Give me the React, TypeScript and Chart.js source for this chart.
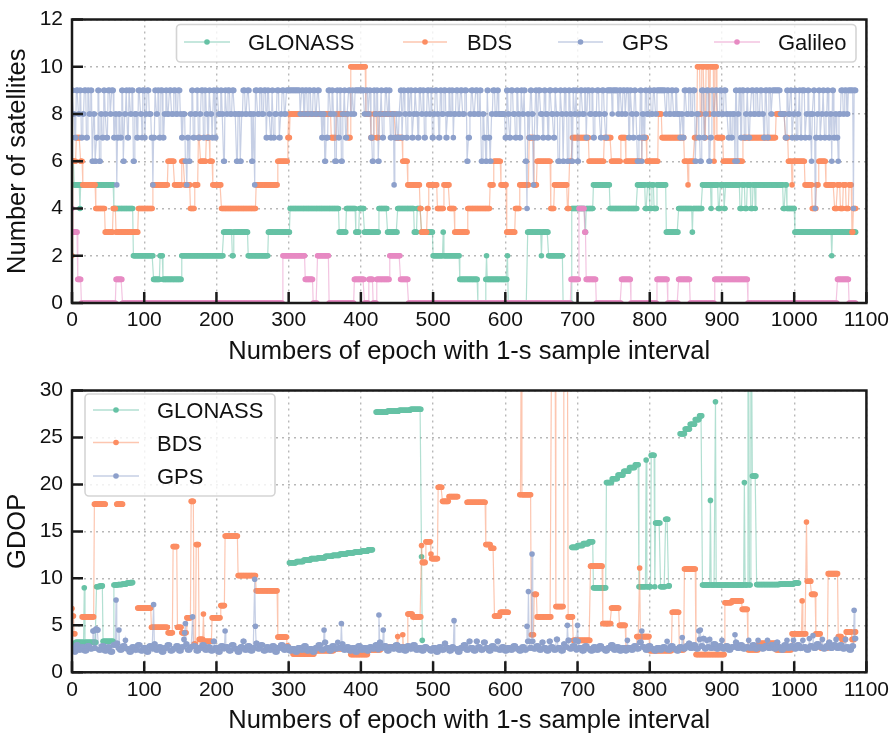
import React, { useEffect, useRef } from "react";
import { Chart, registerables } from "chart.js";

Chart.register(...registerables);

const FONT = 'Arial, "Liberation Sans", Helvetica, sans-serif';
const LAST_EPOCH = 1085;

const epochTicks = [0, 100, 200, 300, 400, 500, 600, 700, 800, 900, 1000, 1100];
const satTicks = [0, 2, 4, 6, 8, 10, 12];
const gdopTicks = [0, 5, 10, 15, 20, 25, 30];

const satSystems = ["GLONASS", "BDS", "GPS", "Galileo"];
const gdopSystems = ["GLONASS", "BDS", "GPS"];
const systemColors = ["#66c2a5", "#fc8d62", "#8da0cb", "#e78ac3"];

const xTitle = "Numbers of epoch with 1-s sample interval";
const satTitle = "Number of satellites";
const gdopTitle = "GDOP";

// Run-length data: [first epoch, value] (value holds until next run)
const glonassSats = [[0,6],[3,5],[11,4],[12,5],[58,4],[85,2],[113,1],[122,2],[126,1],[152,2],[210,3],[222,2],[224,3],[244,2],[272,3],[302,4],[370,3],[380,4],[393,3],[398,4],[405,3],[425,4],[437,3],[451,4],[474,3],[478,4],[484,3],[500,2],[514,3],[515,2],[537,1],[562,0],[573,1],[574,2],[575,1],[603,2],[604,0],[631,3],[650,2],[651,3],[660,2],[680,0],[692,4],[711,3],[712,4],[722,5],[745,4],[783,5],[794,4],[797,5],[800,4],[803,5],[806,4],[810,5],[823,3],[840,4],[859,3],[860,4],[873,5],[885,4],[886,5],[895,4],[898,5],[903,4],[905,5],[925,4],[928,5],[932,4],[935,5],[940,4],[943,5],[946,4],[947,5],[985,4],[988,5],[990,4],[1001,3],[1052,2],[1053,3]];

const bdsSats = [[0,2],[1,6],[6,7],[12,6],[15,5],[33,4],[46,3],[57,4],[61,3],[92,4],[112,5],[133,6],[142,5],[152,6],[156,5],[164,4],[170,5],[175,7],[178,6],[186,7],[191,6],[195,5],[207,4],[255,5],[285,6],[299,7],[300,8],[301,7],[302,8],[359,7],[366,8],[382,7],[386,10],[407,8],[414,7],[418,8],[422,7],[425,8],[448,7],[458,6],[465,5],[482,4],[484,3],[492,4],[494,5],[506,4],[515,5],[523,4],[530,3],[548,4],[579,5],[584,6],[594,5],[602,3],[614,4],[620,5],[633,7],[640,5],[644,6],[663,4],[668,5],[686,4],[689,6],[693,7],[716,6],[737,7],[747,6],[760,7],[767,6],[789,7],[796,6],[812,8],[817,7],[848,6],[853,5],[854,6],[862,7],[866,10],[870,8],[872,10],[876,7],[878,10],[882,8],[884,10],[889,6],[890,10],[893,7],[902,6],[929,7],[975,8],[988,7],[992,6],[997,5],[998,6],[1015,5],[1025,4],[1031,5],[1034,6],[1044,5],[1056,4],[1060,5],[1064,4],[1068,5],[1072,4],[1076,5],[1080,3],[1082,4]];

const gpsSats = [[0,9],[2,8],[4,7],[6,9],[9,8],[11,9],[13,7],[15,8],[17,9],[20,7],[22,9],[24,8],[26,9],[28,6],[30,8],[32,6],[34,7],[36,9],[38,6],[40,8],[42,7],[44,9],[46,8],[48,7],[50,9],[53,8],[55,9],[58,7],[60,8],[62,5],[63,7],[65,8],[67,7],[69,9],[71,6],[73,8],[75,9],[77,7],[79,9],[81,8],[83,9],[85,6],[87,8],[90,7],[92,9],[95,8],[97,7],[98,9],[101,7],[102,8],[104,9],[107,8],[110,7],[112,5],[113,7],[115,9],[117,8],[119,9],[121,7],[123,9],[126,7],[128,8],[130,9],[132,8],[135,9],[138,8],[141,9],[144,8],[147,9],[150,8],[152,7],[154,8],[157,6],[159,5],[160,7],[162,6],[164,8],[166,9],[168,7],[170,8],[173,9],[175,7],[177,8],[179,9],[182,7],[184,9],[186,8],[188,7],[190,9],[192,8],[194,7],[196,9],[198,7],[200,9],[203,8],[206,9],[208,8],[210,6],[212,9],[214,8],[216,9],[219,8],[222,9],[225,8],[228,6],[230,8],[233,6],[235,8],[237,9],[240,8],[243,9],[246,8],[249,6],[251,8],[253,5],[254,9],[257,8],[260,9],[263,8],[266,9],[269,7],[271,9],[273,8],[275,7],[277,9],[279,7],[281,8],[284,9],[287,7],[289,8],[291,9],[294,8],[297,9],[316,8],[318,9],[321,8],[323,9],[326,8],[328,9],[331,8],[334,9],[337,8],[340,9],[343,8],[346,7],[348,8],[350,6],[352,7],[355,9],[358,8],[360,9],[362,8],[364,6],[367,9],[369,7],[371,9],[373,6],[375,8],[377,9],[379,7],[381,8],[383,9],[386,8],[388,9],[390,8],[392,9],[405,8],[407,9],[410,8],[412,9],[414,7],[416,6],[418,9],[420,8],[422,9],[424,6],[426,8],[428,9],[430,7],[432,8],[434,9],[437,8],[439,9],[441,7],[443,8],[446,5],[447,7],[449,8],[451,7],[453,8],[455,9],[457,7],[459,9],[461,8],[463,7],[465,9],[467,8],[469,9],[471,7],[473,8],[475,9],[477,8],[479,7],[481,9],[484,8],[486,9],[488,7],[490,8],[492,9],[495,8],[497,9],[499,7],[501,8],[503,9],[506,8],[508,7],[510,9],[512,8],[515,9],[518,7],[520,8],[522,9],[524,8],[526,9],[528,7],[529,8],[532,9],[535,8],[538,9],[541,8],[544,9],[547,6],[549,7],[551,8],[553,9],[556,8],[559,9],[562,8],[565,9],[567,6],[569,8],[571,7],[573,6],[575,9],[577,7],[579,6],[581,8],[583,9],[586,8],[589,9],[591,8],[600,7],[602,9],[604,8],[606,7],[608,9],[611,8],[614,7],[616,9],[618,8],[620,7],[622,9],[624,8],[626,9],[628,6],[630,4],[631,8],[633,7],[635,9],[637,8],[639,5],[640,7],[642,9],[644,7],[646,9],[649,8],[652,7],[654,9],[656,8],[659,7],[661,9],[664,8],[667,7],[669,9],[671,8],[673,6],[676,9],[678,8],[680,6],[682,9],[684,8],[686,6],[688,9],[690,8],[692,6],[694,9],[696,8],[698,9],[700,6],[702,8],[704,9],[707,8],[710,9],[712,7],[714,9],[717,8],[720,9],[722,7],[724,8],[727,9],[730,8],[732,7],[734,9],[737,8],[739,7],[741,9],[748,8],[749,9],[756,8],[758,9],[761,8],[763,9],[766,8],[768,9],[771,7],[773,9],[775,8],[777,7],[779,9],[781,8],[783,6],[785,7],[787,9],[789,6],[790,8],[792,7],[794,9],[796,8],[799,9],[802,8],[805,9],[808,8],[810,9],[822,8],[824,9],[827,8],[830,9],[833,8],[836,9],[838,8],[842,7],[844,8],[846,7],[848,9],[851,8],[854,9],[857,8],[860,9],[863,6],[865,8],[868,7],[870,6],[872,9],[875,7],[877,8],[879,9],[882,6],[884,7],[886,9],[888,8],[891,9],[894,8],[897,9],[900,8],[903,9],[906,8],[909,7],[911,8],[913,7],[915,8],[918,6],[919,9],[921,6],[922,8],[924,9],[926,7],[928,9],[931,7],[933,8],[935,9],[937,7],[939,8],[941,9],[944,8],[947,9],[950,8],[953,9],[956,8],[958,7],[960,9],[963,7],[965,9],[968,8],[970,9],[981,8],[988,7],[990,9],[992,8],[995,9],[997,7],[999,8],[1001,9],[1003,7],[1005,8],[1007,9],[1009,7],[1011,9],[1015,7],[1017,8],[1019,9],[1021,7],[1022,8],[1024,6],[1025,8],[1027,9],[1029,4],[1030,7],[1032,8],[1034,9],[1036,7],[1038,8],[1040,9],[1042,7],[1044,8],[1046,9],[1048,7],[1050,8],[1052,6],[1053,9],[1055,7],[1057,8],[1059,7],[1061,6],[1062,8],[1065,9],[1068,8],[1070,9],[1073,8],[1075,9],[1082,4],[1083,9]];

const galileoSats = [[0,4],[1,3],[8,1],[13,0],[61,1],[70,0],[292,2],[323,1],[334,0],[340,2],[356,0],[391,1],[405,0],[411,1],[417,0],[422,1],[440,2],[455,1],[466,0],[691,1],[702,4],[710,3],[712,1],[726,0],[761,1],[774,0],[810,1],[825,0],[840,1],[856,0],[890,1],[936,0],[1060,1],[1076,0]];

const glonassGdop = [[0,2.9],[5,3.2],[17,9.0],[18,3.2],[34,9.1],[37,9.15],[40,9.2],[43,3.3],[58,9.3],[64,9.35],[70,9.4],[76,9.5],[81,9.55],[85,null],[301,11.65],[311,11.8],[321,11.95],[331,12.1],[341,12.2],[351,12.35],[361,12.45],[371,12.6],[381,12.7],[391,12.8],[401,12.9],[410,13.05],[417,null],[421,27.7],[437,27.8],[453,27.9],[469,28.0],[484,12.3],[485,3.4],[486,null],[692,13.3],[700,13.5],[708,13.7],[716,13.9],[722,9.0],[740,20.2],[748,20.6],[756,21.0],[764,21.4],[772,21.8],[780,22.1],[785,9.1],[795,22.6],[796,9.1],[802,23.1],[807,9.1],[808,15.9],[815,9.1],[822,16.3],[826,9.2],[828,null],[842,25.4],[849,25.9],[856,26.4],[863,26.9],[869,27.3],[873,9.3],[884,18.3],[885,9.3],[891,28.8],[892,9.3],[931,20.2],[932,9.3],[936,35],[938,9.3],[940,35],[942,20.9],[948,9.35],[980,9.4],[1000,9.5],[1007,null]];

const bdsGdop = [[0,6.8],[1,6.0],[3,4.1],[5,null],[14,5.9],[31,17.9],[47,null],[62,17.9],[71,null],[91,6.85],[110,4.8],[133,4.2],[140,13.4],[146,4.8],[152,4.2],[159,5.8],[165,18.2],[169,3.0],[172,13.6],[176,3.5],[182,6.2],[183,3.3],[194,5.8],[206,7.1],[212,14.5],[230,10.3],[255,8.67],[285,3.75],[298,2.8],[300,2.4],[306,1.96],[336,2.3],[363,2.5],[386,1.9],[410,2.4],[428,2.7],[451,3.8],[452,2.7],[458,4.0],[459,2.7],[465,6.2],[472,5.9],[484,13.5],[485,11.7],[490,13.9],[497,12.6],[498,12.1],[507,19.7],[513,18.2],[522,18.7],[535,null],[547,18.1],[573,13.6],[580,13.2],[585,6.0],[593,6.4],[605,null],[620,18.9],[622,35],[623,18.9],[636,4.0],[640,8.3],[644,5.9],[664,35],[670,7.0],[681,35],[687,5.9],[694,3.4],[718,11.3],[735,5.2],[747,6.85],[758,5.0],[767,2.6],[782,3.8],[786,11.1],[787,3.8],[800,2.3],[831,6.4],[841,2.4],[848,11.0],[864,1.9],[904,7.4],[914,7.6],[928,6.7],[936,2.4],[951,3.1],[975,2.4],[997,4.1],[1011,7.6],[1012,4.1],[1017,16.0],[1018,9.7],[1024,8.3],[1030,4.1],[1037,2.6],[1047,10.5],[1061,3.8],[1066,3.5],[1072,4.3],[1080,3.5],[1084,4.3]];

const gpsGdop = [[0,2.6],[3,2.2],[6,2.9],[9,2.4],[13,2.7],[17,2.3],[21,2.8],[25,2.5],[29,4.4],[31,2.6],[33,4.6],[35,4.5],[37,2.4],[41,2.8],[45,2.3],[49,2.7],[53,2.2],[57,2.9],[61,7.7],[62,3.1],[64,2.6],[65,4.5],[66,2.4],[70,2.8],[74,3.4],[75,2.5],[79,2.2],[83,2.7],[87,2.4],[91,2.9],[95,2.3],[99,2.6],[103,2.2],[107,2.8],[111,2.5],[113,7.2],[114,3.0],[116,2.4],[120,2.7],[124,2.2],[128,2.6],[132,2.9],[136,2.3],[140,2.5],[144,2.8],[148,2.3],[152,2.7],[155,3.5],[156,4.2],[157,5.2],[158,3.0],[160,2.4],[164,2.7],[167,5.9],[168,2.8],[172,2.3],[176,2.6],[180,2.9],[184,2.4],[188,2.7],[192,2.3],[196,3.3],[198,2.6],[202,2.2],[206,2.8],[210,2.5],[212,4.4],[213,2.7],[217,2.3],[221,2.9],[225,2.5],[229,2.2],[233,2.7],[237,3.3],[239,2.4],[243,2.8],[247,2.3],[251,2.6],[253,9.9],[254,4.9],[255,3.1],[257,2.5],[261,2.9],[265,2.3],[269,2.7],[273,2.4],[277,2.8],[281,2.2],[285,2.6],[289,2.9],[293,2.4],[297,2.7],[301,2.3],[305,2.5],[309,2.2],[313,2.6],[317,2.4],[321,2.8],[325,2.3],[329,2.5],[333,2.2],[337,2.6],[341,2.9],[345,2.4],[349,4.5],[350,3.2],[352,2.6],[356,2.3],[360,2.8],[364,2.5],[368,3.2],[369,2.6],[373,5.2],[374,3.0],[376,2.4],[380,2.7],[384,2.3],[388,2.6],[392,2.2],[396,2.8],[400,2.4],[404,2.6],[408,2.3],[412,2.7],[416,2.5],[420,2.9],[424,2.4],[425,6.1],[426,3.2],[428,2.6],[431,4.5],[432,2.8],[436,2.3],[440,2.7],[444,2.5],[448,2.9],[452,2.4],[456,2.7],[460,2.3],[464,2.8],[468,2.5],[472,2.9],[476,2.4],[480,2.6],[484,2.3],[488,2.7],[492,2.5],[496,2.3],[500,2.6],[504,2.2],[508,2.7],[512,2.4],[516,3.1],[518,2.6],[522,2.3],[526,2.7],[529,5.5],[530,2.5],[534,2.2],[538,2.6],[542,2.9],[546,2.4],[550,3.3],[552,2.6],[556,2.3],[560,3.3],[562,2.7],[566,2.4],[570,3.2],[573,2.6],[577,2.3],[581,2.8],[585,2.5],[589,3.3],[591,2.4],[595,2.7],[599,2.3],[603,2.6],[607,2.4],[611,2.8],[615,2.5],[619,2.3],[623,2.7],[627,2.4],[630,4.9],[631,3.3],[632,8.6],[633,3.3],[634,2.6],[637,12.6],[638,3.3],[639,2.5],[643,2.8],[647,2.4],[651,3.2],[653,2.6],[657,2.3],[661,3.3],[663,2.7],[667,2.4],[671,3.5],[673,2.6],[677,2.3],[681,3.0],[683,2.7],[686,5.0],[687,3.4],[689,2.5],[693,2.8],[697,3.4],[698,2.4],[700,5.0],[701,3.3],[702,2.6],[706,2.3],[710,2.8],[714,2.5],[718,2.3],[722,2.7],[726,2.4],[730,2.8],[734,2.5],[738,2.3],[742,2.6],[746,2.9],[750,2.4],[754,2.7],[758,2.3],[762,2.6],[766,2.3],[769,3.4],[770,2.6],[774,2.4],[778,2.8],[782,2.5],[786,3.2],[789,4.4],[790,2.7],[794,2.4],[798,2.8],[802,2.5],[806,2.3],[810,2.6],[814,2.4],[818,2.7],[822,2.5],[824,3.3],[825,2.4],[829,2.8],[833,2.5],[837,2.3],[841,2.7],[845,3.7],[846,2.5],[850,2.8],[854,3.1],[856,2.6],[860,2.9],[864,2.5],[868,4.4],[869,3.5],[870,4.5],[871,2.8],[874,3.6],[876,2.5],[879,3.4],[880,2.7],[883,3.5],[884,2.6],[888,3.0],[892,2.5],[896,2.8],[900,3.4],[901,2.5],[905,2.8],[909,2.4],[913,2.7],[918,4.0],[919,3.2],[921,2.6],[925,2.9],[929,2.5],[933,2.7],[937,3.4],[938,2.6],[942,2.9],[946,2.5],[950,3.4],[951,2.7],[955,2.5],[959,2.8],[963,3.4],[964,2.6],[968,2.9],[972,2.5],[976,3.2],[978,2.7],[982,2.4],[986,2.9],[990,3.4],[991,2.6],[995,2.8],[999,3.4],[1000,2.5],[1004,2.9],[1008,2.6],[1012,3.4],[1013,2.7],[1017,2.4],[1021,3.6],[1022,2.8],[1026,3.9],[1027,2.6],[1031,3.0],[1035,2.7],[1039,3.5],[1040,2.5],[1044,2.8],[1048,3.2],[1050,2.6],[1054,2.9],[1058,3.5],[1059,2.6],[1063,2.9],[1067,2.5],[1071,3.5],[1072,2.7],[1076,2.4],[1080,2.8],[1083,6.6],[1084,3.6]];

function expandRuns(runs: (number | null)[][]) {
  const pts: { x: number; y: number | null }[] = [];
  for (let i = 0; i < runs.length; i++) {
    const s = runs[i][0] as number;
    const v = runs[i][1];
    const e = i + 1 < runs.length ? (runs[i + 1][0] as number) - 1 : LAST_EPOCH;
    for (let x = s; x <= e; x++) pts.push({ x, y: v });
  }
  return pts;
}

function rgba(hex: string, a: number) {
  const n = parseInt(hex.slice(1), 16);
  return `rgba(${(n >> 16) & 255},${(n >> 8) & 255},${n & 255},${a})`;
}

function makeDataset(label: string, runs: (number | null)[][], color: string, order: number) {
  return {
    label,
    data: expandRuns(runs),
    borderColor: rgba(color, 0.5),
    backgroundColor: color,
    borderWidth: 1.2,
    pointRadius: 2.8,
    pointBackgroundColor: color,
    pointBorderWidth: 0,
    pointHoverRadius: 0,
    pointHitRadius: 0,
    tension: 0,
    fill: false,
    spanGaps: false,
    order,
  };
}

const decorPlugin = {
  id: "decor",
  afterDraw(chart: any, _args: any, opts: any) {
    const { ctx, chartArea: a } = chart;
    const xs = chart.scales.x;
    const ys = chart.scales.y;
    ctx.save();
    // inward ticks
    ctx.strokeStyle = "#1a1a1a";
    ctx.lineWidth = 2.5;
    ctx.beginPath();
    for (const v of epochTicks) {
      const px = xs.getPixelForValue(v);
      ctx.moveTo(px, a.bottom);
      ctx.lineTo(px, a.bottom - 11);
    }
    for (const v of opts.yTicks) {
      const py = ys.getPixelForValue(v);
      ctx.moveTo(a.left, py);
      ctx.lineTo(a.left + 11, py);
    }
    ctx.stroke();
    // frame
    ctx.lineWidth = 2.5;
    ctx.strokeRect(a.left, a.top, a.right - a.left, a.bottom - a.top);
    // titles
    ctx.fillStyle = "#111";
    ctx.font = `25.5px ${FONT}`;
    ctx.textAlign = "center";
    ctx.textBaseline = "alphabetic";
    ctx.fillText(opts.xTitle, (a.left + a.right) / 2, a.bottom + opts.xTitleOffset);
    ctx.save();
    ctx.translate(opts.yTitleX, (a.top + a.bottom) / 2);
    ctx.rotate(-Math.PI / 2);
    ctx.fillText(opts.yTitle, 0, 0);
    ctx.restore();
    // legend
    const L = opts.legend;
    ctx.beginPath();
    const r = 4;
    ctx.moveTo(L.x + r, L.y);
    ctx.lineTo(L.x + L.w - r, L.y);
    ctx.arcTo(L.x + L.w, L.y, L.x + L.w, L.y + r, r);
    ctx.lineTo(L.x + L.w, L.y + L.h - r);
    ctx.arcTo(L.x + L.w, L.y + L.h, L.x + L.w - r, L.y + L.h, r);
    ctx.lineTo(L.x + r, L.y + L.h);
    ctx.arcTo(L.x, L.y + L.h, L.x, L.y + L.h - r, r);
    ctx.lineTo(L.x, L.y + r);
    ctx.arcTo(L.x, L.y, L.x + r, L.y, r);
    ctx.closePath();
    ctx.fillStyle = "rgba(255,255,255,0.8)";
    ctx.fill();
    ctx.strokeStyle = "rgba(204,204,204,0.85)";
    ctx.lineWidth = 1.6;
    ctx.stroke();
    for (const it of L.items) {
      ctx.strokeStyle = rgba(it.color, 0.5);
      ctx.lineWidth = 1.5;
      ctx.beginPath();
      ctx.moveTo(it.h0, it.y);
      ctx.lineTo(it.h1, it.y);
      ctx.stroke();
      ctx.fillStyle = it.color;
      ctx.beginPath();
      ctx.arc((it.h0 + it.h1) / 2, it.y, 2.8, 0, Math.PI * 2);
      ctx.fill();
      ctx.fillStyle = "#111";
      ctx.font = `22px ${FONT}`;
      ctx.textAlign = "left";
      ctx.textBaseline = "alphabetic";
      ctx.fillText(it.label, it.tx, it.y + 8);
    }
    ctx.restore();
  },
};

function buildConfig(opts: {
  datasets: any[];
  yMax: number;
  yTicks: number[];
  height: number;
  top: number;
  bottom: number;
  decor: any;
}) {
  const tickFont = { family: FONT, size: 21, lineHeight: 1 };
  const gridCfg = { color: "#b8b8b8", lineWidth: 1.4, drawTicks: false };
  return {
    type: "line",
    data: { datasets: opts.datasets },
    plugins: [decorPlugin],
    options: {
      animation: false,
      responsive: false,
      events: [],
      layout: { padding: { left: 0, right: 28, top: opts.top, bottom: 0 } },
      plugins: {
        legend: { display: false },
        tooltip: { enabled: false },
        decor: opts.decor,
      },
      scales: {
        x: {
          type: "linear",
          min: 0,
          max: 1100,
          afterBuildTicks: (s: any) => {
            s.ticks = epochTicks.map((v) => ({ value: v }));
          },
          afterFit: (s: any) => {
            s.height = opts.height - opts.bottom;
          },
          ticks: {
            font: tickFont,
            color: "#111",
            padding: 7,
            maxRotation: 0,
            minRotation: 0,
            autoSkip: false,
            callback: (v: any) => String(v),
          },
          grid: gridCfg,
          border: { display: false, dash: [2, 4] },
        },
        y: {
          type: "linear",
          min: 0,
          max: opts.yMax,
          afterBuildTicks: (s: any) => {
            s.ticks = opts.yTicks.map((v) => ({ value: v }));
          },
          afterFit: (s: any) => {
            s.width = 72;
          },
          ticks: { font: tickFont, color: "#111", padding: 9, autoSkip: false, callback: (v: any) => String(v) },
          grid: gridCfg,
          border: { display: false, dash: [2, 4] },
        },
      },
    },
  };
}

export default function App() {
  const topRef = useRef<HTMLCanvasElement | null>(null);
  const botRef = useRef<HTMLCanvasElement | null>(null);

  useEffect(() => {
    const satRuns = [glonassSats, bdsSats, gpsSats, galileoSats];
    const gdopRuns = [glonassGdop, bdsGdop, gpsGdop];
    const topDatasets = satSystems.map((s, i) => makeDataset(s, satRuns[i], systemColors[i], 4 - i));
    const botDatasets = gdopSystems.map((s, i) => makeDataset(s, gdopRuns[i], systemColors[i], 4 - i));

    const topLegend = {
      x: 176.5, y: 24.5, w: 679.5, h: 37.5,
      items: [
        { label: satSystems[0], color: systemColors[0], h0: 184, h1: 230, tx: 248, y: 42 },
        { label: satSystems[1], color: systemColors[1], h0: 403, h1: 447, tx: 467, y: 42 },
        { label: satSystems[2], color: systemColors[2], h0: 558, h1: 603, tx: 622, y: 42 },
        { label: satSystems[3], color: systemColors[3], h0: 714, h1: 760, tx: 778, y: 42 },
      ],
    };
    const botLegend = {
      x: 85, y: 23, w: 190, h: 102,
      items: [
        { label: gdopSystems[0], color: systemColors[0], h0: 93, h1: 139, tx: 157, y: 39 },
        { label: gdopSystems[1], color: systemColors[1], h0: 93, h1: 139, tx: 157, y: 71.5 },
        { label: gdopSystems[2], color: systemColors[2], h0: 93, h1: 139, tx: 157, y: 105 },
      ],
    };

    const c1 = new Chart(topRef.current as HTMLCanvasElement, buildConfig({
      datasets: topDatasets, yMax: 12, yTicks: satTicks, height: 371, top: 12, bottom: 303,
      decor: { xTitle, yTitle: satTitle, xTitleOffset: 56, yTitleX: 25, yTicks: satTicks, legend: topLegend },
    }) as any);
    const c2 = new Chart(botRef.current as HTMLCanvasElement, buildConfig({
      datasets: botDatasets, yMax: 30, yTicks: gdopTicks, height: 372, top: 11, bottom: 301.3,
      decor: { xTitle, yTitle: gdopTitle, xTitleOffset: 56, yTitleX: 25, yTicks: gdopTicks, legend: botLegend },
    }) as any);
    return () => {
      c1.destroy();
      c2.destroy();
    };
  }, []);

  return (
    <div style={{ position: "absolute", left: 0, top: 0, width: 896, height: 743, background: "#fff" }}>
      <canvas ref={topRef} width={896} height={371} style={{ display: "block", width: 896, height: 371 }} />
      <canvas ref={botRef} width={896} height={372} style={{ display: "block", width: 896, height: 372 }} />
    </div>
  );
}
